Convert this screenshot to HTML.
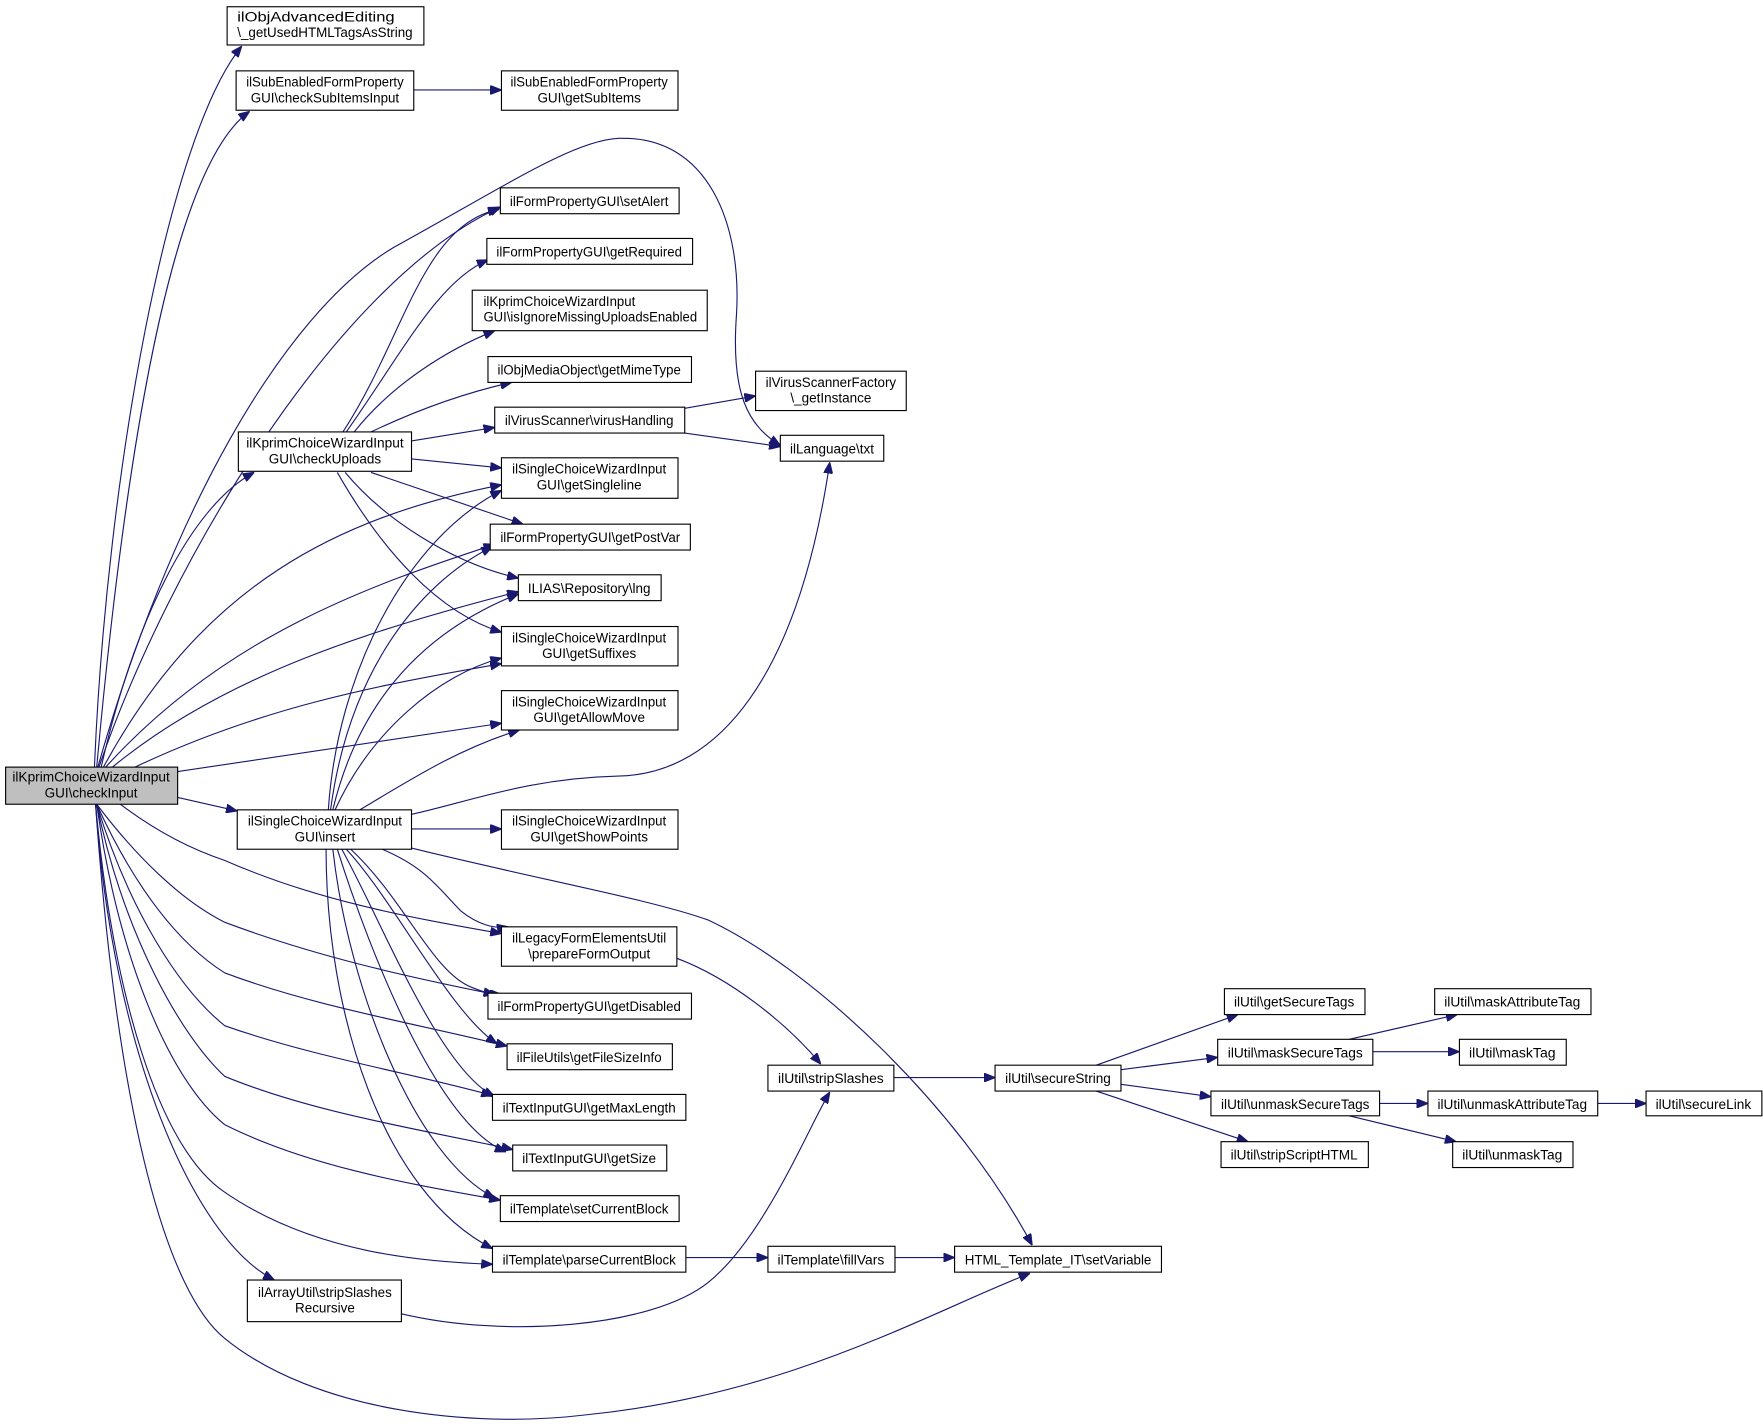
<!DOCTYPE html>
<html><head><meta charset="utf-8"><style>
html,body{margin:0;padding:0;background:#fff;}
svg{display:block;}
text{font-family:"Liberation Sans",sans-serif;font-size:12px;fill:#000;}
.e{fill:none;stroke:#191970;stroke-width:1;}
.n{fill:#fff;stroke:#000;stroke-width:1;}
</style></head><body>
<svg width="1763" height="1424" viewBox="0 0 1568 1266" preserveAspectRatio="none" xmlns="http://www.w3.org/2000/svg">
<defs><marker id="a" viewBox="0 0 10 8" refX="10" refY="4" markerWidth="10" markerHeight="8" markerUnits="userSpaceOnUse" orient="auto"><path d="M0,0L10,4L0,8z" fill="#191970" stroke="#191970"/></marker></defs>
<g marker-end="url(#a)">
<!-- from checkInput -->
<path class="e" d="M84,682 C95,420 150,120 215,41"/>
<path class="e" d="M86,682 C110,420 150,150 222,99"/>
<path class="e" d="M87,682 C150,460 250,280 350,220 C450,165 510,125 550,123 C630,120 660,200 655,280 C650,350 665,378 694,396"/>
<path class="e" d="M88,682 C150,500 300,250 445,184"/>
<path class="e" d="M90,682 C120,550 170,450 226,420"/>
<path class="e" d="M92,682 C180,520 300,460 446,431"/>
<path class="e" d="M94,682 C200,565 330,520 440,484"/>
<path class="e" d="M100,682 C200,600 330,560 461,526"/>
<path class="e" d="M120,682 C230,630 330,610 446,590"/>
<path class="e" d="M158,686 L446,643"/>
<path class="e" d="M158,709 L211,721"/>
<path class="e" d="M107,715 C140,740 170,755 200,765 C280,800 360,815 446,830"/>
<path class="e" d="M86,715 C120,760 160,800 200,820 C280,850 360,868 440,884"/>
<path class="e" d="M86,715 C120,790 160,840 200,865 C280,895 370,910 451,930"/>
<path class="e" d="M86,715 C115,810 160,880 200,912 C280,940 370,955 438,974"/>
<path class="e" d="M86,715 C110,830 160,920 200,957 C280,990 380,1005 456,1022"/>
<path class="e" d="M86,715 C105,850 150,960 200,1000 C280,1040 380,1055 445,1067"/>
<path class="e" d="M85,715 C100,880 140,1020 200,1060 C280,1115 380,1122 438,1124"/>
<path class="e" d="M85,715 C100,930 170,1100 244,1138"/>
<path class="e" d="M85,715 C105,1000 150,1150 200,1190 C280,1255 420,1270 520,1258 C700,1240 820,1170 916,1132"/>
<!-- from checkUploads -->
<path class="e" d="M305,384 C360,300 375,200 444,186"/>
<path class="e" d="M308,384 C360,310 390,250 434,231"/>
<path class="e" d="M315,384 C350,340 400,310 440,294"/>
<path class="e" d="M330,384 C370,365 410,350 455,340"/>
<path class="e" d="M366,392 L440,380"/>
<path class="e" d="M366,408 L446,416"/>
<path class="e" d="M330,420 L465,466"/>
<path class="e" d="M307,420 C340,460 400,500 461,514"/>
<path class="e" d="M300,420 C340,490 390,545 446,562"/>
<!-- virus -->
<path class="e" d="M609,363 L672,352"/>
<path class="e" d="M609,385 L694,397"/>
<path class="e" d="M368,80 L446,80"/>
<!-- from insert -->
<path class="e" d="M292,720 C300,600 360,480 446,436"/>
<path class="e" d="M294,720 C310,600 370,520 438,486"/>
<path class="e" d="M296,720 C320,620 380,560 461,528"/>
<path class="e" d="M298,720 C330,650 390,600 446,585"/>
<path class="e" d="M320,720 C370,690 410,665 462,649"/>
<path class="e" d="M366,724 C420,712 470,692 550,690 C640,688 710,600 738,411"/>
<path class="e" d="M366,737 L446,737"/>
<path class="e" d="M366,754 C480,782 580,800 630,818 C720,860 850,980 918,1107"/>
<path class="e" d="M340,755 C380,772 390,790 410,810 C425,822 440,826 452,824"/>
<path class="e" d="M312,755 C360,800 385,865 420,878 C430,882 436,884 446,884"/>
<path class="e" d="M308,755 C350,800 400,900 442,928"/>
<path class="e" d="M304,755 C340,820 390,950 440,975"/>
<path class="e" d="M300,755 C330,850 390,1000 450,1024"/>
<path class="e" d="M296,755 C310,880 370,1030 440,1065"/>
<path class="e" d="M290,755 C290,900 340,1060 438,1110"/>
<!-- rest -->
<path class="e" d="M602,852 C650,870 700,910 730,946"/>
<path class="e" d="M357,1168 C450,1190 580,1180 630,1140 C680,1100 720,1000 738,971"/>
<path class="e" d="M610,1118 L683,1118"/>
<path class="e" d="M796,1118 L849,1118"/>
<path class="e" d="M795,958 L885,958"/>
<path class="e" d="M975,947 L1101,902"/>
<path class="e" d="M997,951 L1083,940"/>
<path class="e" d="M997,964 L1077,975"/>
<path class="e" d="M975,970 L1110,1015"/>
<path class="e" d="M1200,924 L1296,902"/>
<path class="e" d="M1221,935 L1298,935"/>
<path class="e" d="M1227,981 L1270,981"/>
<path class="e" d="M1200,992 L1295,1015"/>
<path class="e" d="M1421,981 L1464,981"/>
</g>
<!-- nodes -->
<rect x="5" y="682" width="153" height="33" fill="#bfbfbf" stroke="#000"/>
<text x="81" y="695" text-anchor="middle" textLength="140" lengthAdjust="spacingAndGlyphs">ilKprimChoiceWizardInput</text>
<text x="81" y="709" text-anchor="middle">GUI\checkInput</text>

<rect class="n" x="202" y="6" width="175" height="34"/>
<text x="211" y="19" textLength="140" lengthAdjust="spacingAndGlyphs">ilObjAdvancedEditing</text>
<text x="211" y="33" textLength="156" lengthAdjust="spacingAndGlyphs">\_getUsedHTMLTagsAsString</text>

<rect class="n" x="210" y="63" width="158" height="35"/>
<text x="289" y="77" text-anchor="middle" textLength="140" lengthAdjust="spacingAndGlyphs">ilSubEnabledFormProperty</text>
<text x="289" y="91" text-anchor="middle" textLength="132" lengthAdjust="spacingAndGlyphs">GUI\checkSubItemsInput</text>

<rect class="n" x="446" y="63" width="157" height="35"/>
<text x="524" y="77" text-anchor="middle" textLength="140" lengthAdjust="spacingAndGlyphs">ilSubEnabledFormProperty</text>
<text x="524" y="91" text-anchor="middle">GUI\getSubItems</text>

<rect class="n" x="445" y="167" width="159" height="23"/>
<text x="524" y="183" text-anchor="middle" textLength="141" lengthAdjust="spacingAndGlyphs">ilFormPropertyGUI\setAlert</text>

<rect class="n" x="433" y="212" width="183" height="23"/>
<text x="524" y="228" text-anchor="middle" textLength="165" lengthAdjust="spacingAndGlyphs">ilFormPropertyGUI\getRequired</text>

<rect class="n" x="420" y="258" width="209" height="36"/>
<text x="430" y="272" textLength="135" lengthAdjust="spacingAndGlyphs">ilKprimChoiceWizardInput</text>
<text x="430" y="286" textLength="190" lengthAdjust="spacingAndGlyphs">GUI\isIgnoreMissingUploadsEnabled</text>

<rect class="n" x="434" y="317" width="181" height="23"/>
<text x="524" y="333" text-anchor="middle" textLength="163" lengthAdjust="spacingAndGlyphs">ilObjMediaObject\getMimeType</text>

<rect class="n" x="440" y="362" width="169" height="23"/>
<text x="524" y="378" text-anchor="middle" textLength="150" lengthAdjust="spacingAndGlyphs">ilVirusScanner\virusHandling</text>

<rect class="n" x="672" y="330" width="134" height="35"/>
<text x="739" y="344" text-anchor="middle" textLength="116" lengthAdjust="spacingAndGlyphs">ilVirusScannerFactory</text>
<text x="739" y="358" text-anchor="middle">\_getInstance</text>

<rect class="n" x="694" y="387" width="92" height="23"/>
<text x="740" y="403" text-anchor="middle">ilLanguage\txt</text>

<rect class="n" x="212" y="384" width="154" height="35"/>
<text x="289" y="398" text-anchor="middle" textLength="140" lengthAdjust="spacingAndGlyphs">ilKprimChoiceWizardInput</text>
<text x="289" y="412" text-anchor="middle">GUI\checkUploads</text>

<rect class="n" x="446" y="407" width="157" height="36"/>
<text x="524" y="421" text-anchor="middle" textLength="137" lengthAdjust="spacingAndGlyphs">ilSingleChoiceWizardInput</text>
<text x="524" y="435" text-anchor="middle">GUI\getSingleline</text>

<rect class="n" x="436" y="466" width="178" height="23"/>
<text x="525" y="482" text-anchor="middle" textLength="160" lengthAdjust="spacingAndGlyphs">ilFormPropertyGUI\getPostVar</text>

<rect class="n" x="461" y="511" width="127" height="23"/>
<text x="524" y="527" text-anchor="middle" textLength="109" lengthAdjust="spacingAndGlyphs">ILIAS\Repository\lng</text>

<rect class="n" x="446" y="557" width="157" height="35"/>
<text x="524" y="571" text-anchor="middle" textLength="137" lengthAdjust="spacingAndGlyphs">ilSingleChoiceWizardInput</text>
<text x="524" y="585" text-anchor="middle">GUI\getSuffixes</text>

<rect class="n" x="446" y="614" width="157" height="35"/>
<text x="524" y="628" text-anchor="middle" textLength="137" lengthAdjust="spacingAndGlyphs">ilSingleChoiceWizardInput</text>
<text x="524" y="642" text-anchor="middle">GUI\getAllowMove</text>

<rect class="n" x="211" y="720" width="155" height="35"/>
<text x="289" y="734" text-anchor="middle" textLength="137" lengthAdjust="spacingAndGlyphs">ilSingleChoiceWizardInput</text>
<text x="289" y="748" text-anchor="middle">GUI\insert</text>

<rect class="n" x="446" y="720" width="157" height="35"/>
<text x="524" y="734" text-anchor="middle" textLength="137" lengthAdjust="spacingAndGlyphs">ilSingleChoiceWizardInput</text>
<text x="524" y="748" text-anchor="middle">GUI\getShowPoints</text>

<rect class="n" x="446" y="824" width="156" height="35"/>
<text x="524" y="838" text-anchor="middle" textLength="137" lengthAdjust="spacingAndGlyphs">ilLegacyFormElementsUtil</text>
<text x="524" y="852" text-anchor="middle">\prepareFormOutput</text>

<rect class="n" x="434" y="883" width="181" height="23"/>
<text x="524" y="899" text-anchor="middle" textLength="163" lengthAdjust="spacingAndGlyphs">ilFormPropertyGUI\getDisabled</text>

<rect class="n" x="451" y="928" width="147" height="23"/>
<text x="524" y="944" text-anchor="middle" textLength="129" lengthAdjust="spacingAndGlyphs">ilFileUtils\getFileSizeInfo</text>

<rect class="n" x="438" y="973" width="172" height="23"/>
<text x="524" y="989" text-anchor="middle" textLength="154" lengthAdjust="spacingAndGlyphs">ilTextInputGUI\getMaxLength</text>

<rect class="n" x="456" y="1018" width="137" height="23"/>
<text x="524" y="1034" text-anchor="middle" textLength="119" lengthAdjust="spacingAndGlyphs">ilTextInputGUI\getSize</text>

<rect class="n" x="445" y="1063" width="159" height="23"/>
<text x="524" y="1079" text-anchor="middle" textLength="141" lengthAdjust="spacingAndGlyphs">ilTemplate\setCurrentBlock</text>

<rect class="n" x="438" y="1108" width="172" height="23"/>
<text x="524" y="1124" text-anchor="middle" textLength="154" lengthAdjust="spacingAndGlyphs">ilTemplate\parseCurrentBlock</text>

<rect class="n" x="220" y="1138" width="137" height="37"/>
<text x="289" y="1153" text-anchor="middle" textLength="119" lengthAdjust="spacingAndGlyphs">ilArrayUtil\stripSlashes</text>
<text x="289" y="1167" text-anchor="middle">Recursive</text>

<rect class="n" x="683" y="947" width="112" height="23"/>
<text x="739" y="963" text-anchor="middle" textLength="94" lengthAdjust="spacingAndGlyphs">ilUtil\stripSlashes</text>

<rect class="n" x="683" y="1108" width="113" height="23"/>
<text x="739" y="1124" text-anchor="middle" textLength="95" lengthAdjust="spacingAndGlyphs">ilTemplate\fillVars</text>

<rect class="n" x="849" y="1108" width="184" height="23"/>
<text x="941" y="1124" text-anchor="middle" textLength="166" lengthAdjust="spacingAndGlyphs">HTML_Template_IT\setVariable</text>

<rect class="n" x="885" y="947" width="112" height="23"/>
<text x="941" y="963" text-anchor="middle" textLength="94" lengthAdjust="spacingAndGlyphs">ilUtil\secureString</text>

<rect class="n" x="1089" y="879" width="125" height="23"/>
<text x="1151" y="895" text-anchor="middle" textLength="107" lengthAdjust="spacingAndGlyphs">ilUtil\getSecureTags</text>

<rect class="n" x="1083" y="924" width="138" height="23"/>
<text x="1152" y="940" text-anchor="middle" textLength="120" lengthAdjust="spacingAndGlyphs">ilUtil\maskSecureTags</text>

<rect class="n" x="1077" y="970" width="150" height="22"/>
<text x="1152" y="986" text-anchor="middle" textLength="132" lengthAdjust="spacingAndGlyphs">ilUtil\unmaskSecureTags</text>

<rect class="n" x="1086" y="1015" width="131" height="23"/>
<text x="1151" y="1031" text-anchor="middle" textLength="113" lengthAdjust="spacingAndGlyphs">ilUtil\stripScriptHTML</text>

<rect class="n" x="1276" y="879" width="139" height="23"/>
<text x="1345" y="895" text-anchor="middle" textLength="121" lengthAdjust="spacingAndGlyphs">ilUtil\maskAttributeTag</text>

<rect class="n" x="1298" y="924" width="95" height="23"/>
<text x="1345" y="940" text-anchor="middle" textLength="77" lengthAdjust="spacingAndGlyphs">ilUtil\maskTag</text>

<rect class="n" x="1270" y="970" width="151" height="22"/>
<text x="1345" y="986" text-anchor="middle" textLength="133" lengthAdjust="spacingAndGlyphs">ilUtil\unmaskAttributeTag</text>

<rect class="n" x="1464" y="970" width="103" height="22"/>
<text x="1515" y="986" text-anchor="middle" textLength="85" lengthAdjust="spacingAndGlyphs">ilUtil\secureLink</text>

<rect class="n" x="1292" y="1015" width="107" height="23"/>
<text x="1345" y="1031" text-anchor="middle" textLength="89" lengthAdjust="spacingAndGlyphs">ilUtil\unmaskTag</text>
</svg>
</body></html>
